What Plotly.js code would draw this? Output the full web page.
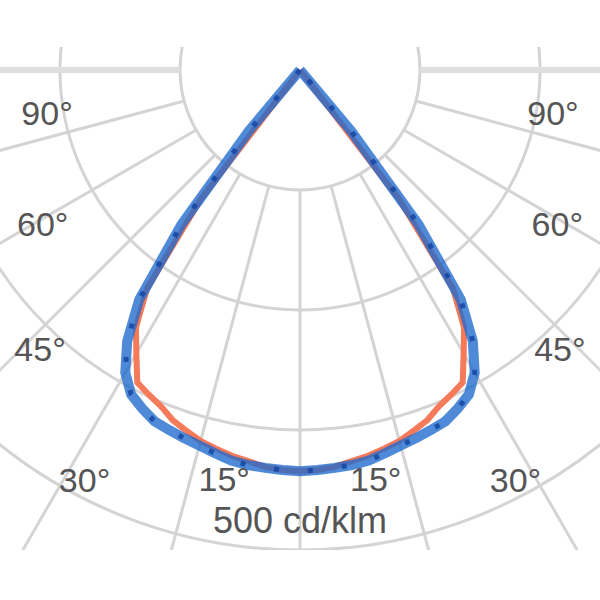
<!DOCTYPE html>
<html>
<head>
<meta charset="utf-8">
<script src="https://cdn.plot.ly/plotly-3.0.1.min.js"></script>
<style>
  html, body { margin:0; padding:0; background:#ffffff; width:600px; height:600px; overflow:hidden; }
  #clip { position:absolute; left:0; top:47px; width:600px; height:503px; overflow:hidden; }
  #plot { position:absolute; left:-300px; top:-577px; width:1200px; height:1200px; }
</style>
</head>
<body>
<div id="clip"><div id="plot"></div></div>
<script>
// Gamma angles (degrees from nadir)
const angles = [0, 2.5, 5, 7.5, 10, 12.5, 15, 17.5, 20, 22.5, 25, 27.5, 30, 32.5, 35, 37.5, 40, 42.5];
// Luminous intensity, cd/klm
const c0c180  = [418, 417, 415, 411, 408, 404, 400, 394, 388, 379, 373, 367, 341, 318, 278, 170, 0, 0];
const c90c270 = [418, 417, 416, 415, 413, 409, 405, 402, 399, 396, 389, 381, 364, 335, 292, 203, 83, 0];
// Radial grid circles (cd/klm)
const radialTicks = [125, 250, 375, 500];
// Angle labels
const leftLabels  = ['90°', '60°', '45°', '30°', '15°'];
const rightLabels = ['90°', '60°', '45°', '30°', '15°'];
const unitLabel = '500 cd/klm';

function fullCurve(vals) {
  const th = [], r = [];
  for (let i = angles.length - 1; i > 0; i--) { th.push(-angles[i]); r.push(vals[i]); }
  for (let i = 0; i < angles.length; i++) { th.push(angles[i]); r.push(vals[i]); }
  return {th, r};
}

// grid rays every 15 deg, starting at first circle
const rayR = [], rayT = [], hR = [], hT = [];
for (let a = 0; a < 360; a += 15) {
  if (a === 90 || a === 270) { hR.push(radialTicks[0], 625, null); hT.push(a, a, null); }
  else { rayR.push(radialTicks[0], 625, null); rayT.push(a, a, null); }
}

// label placement: theta, r per label
const labelPos = [[79.5, 268], [58.6, 314], [42.6, 400], [27.5, 486], [10.4, 437]];
const lblT = [], lblR = [], lblTxt = [];
leftLabels.forEach((t, i) => { lblT.push(-labelPos[i][0]); lblR.push(labelPos[i][1]); lblTxt.push(t); });
rightLabels.forEach((t, i) => { lblT.push(labelPos[i][0]); lblR.push(labelPos[i][1]); lblTxt.push(t); });

const red = fullCurve(c0c180);
const blue = fullCurve(c90c270);
const font = 'Liberation Sans, Arial, sans-serif';

const traces = [
  { type:'scatterpolar', mode:'lines', r: rayR, theta: rayT, connectgaps:false,
    line:{color:'#d4d4d4', width:3}, hoverinfo:'skip' },
  { type:'scatterpolar', mode:'lines', r: hR, theta: hT, connectgaps:false,
    line:{color:'#dedede', width:6}, hoverinfo:'skip' },
  { type:'scatterpolar', mode:'lines', name:'C0 - C180', r: red.r, theta: red.th,
    line:{color:'#f47a5a', width:6} },
  { type:'scatterpolar', mode:'lines', name:'C90 - C270', r: blue.r, theta: blue.th,
    line:{color:'rgba(30,105,205,0.78)', width:10} },
  { type:'scatterpolar', mode:'lines', r: blue.r, theta: blue.th, hoverinfo:'skip',
    line:{color:'rgba(20,70,165,0.85)', width:5, dash:'5px,29px'} },
  { type:'scatterpolar', mode:'text', r: lblR, theta: lblT, text: lblTxt,
    textfont:{family:font, size:34, color:'#555555'}, hoverinfo:'skip' },
  { type:'scatterpolar', mode:'text', r:[473], theta:[0], text:[unitLabel],
    textfont:{family:font, size:36, color:'#555555'}, hoverinfo:'skip' }
];

const layout = {
  width:1200, height:1200,
  margin:{l:0, r:0, t:0, b:0},
  paper_bgcolor:'#ffffff',
  showlegend:false,
  polar:{
    domain:{x:[0,1], y:[0,1]},
    bgcolor:'#ffffff',
    radialaxis:{range:[0,625], tickvals: radialTicks, showticklabels:false, ticks:'',
      showline:false, gridcolor:'#d4d4d4', gridwidth:3},
    angularaxis:{rotation:270, direction:'counterclockwise', showgrid:false,
      showline:false, showticklabels:false, ticks:''}
  }
};

Plotly.newPlot('plot', traces, layout, {staticPlot:true, displayModeBar:false});
</script>
</body>
</html>
